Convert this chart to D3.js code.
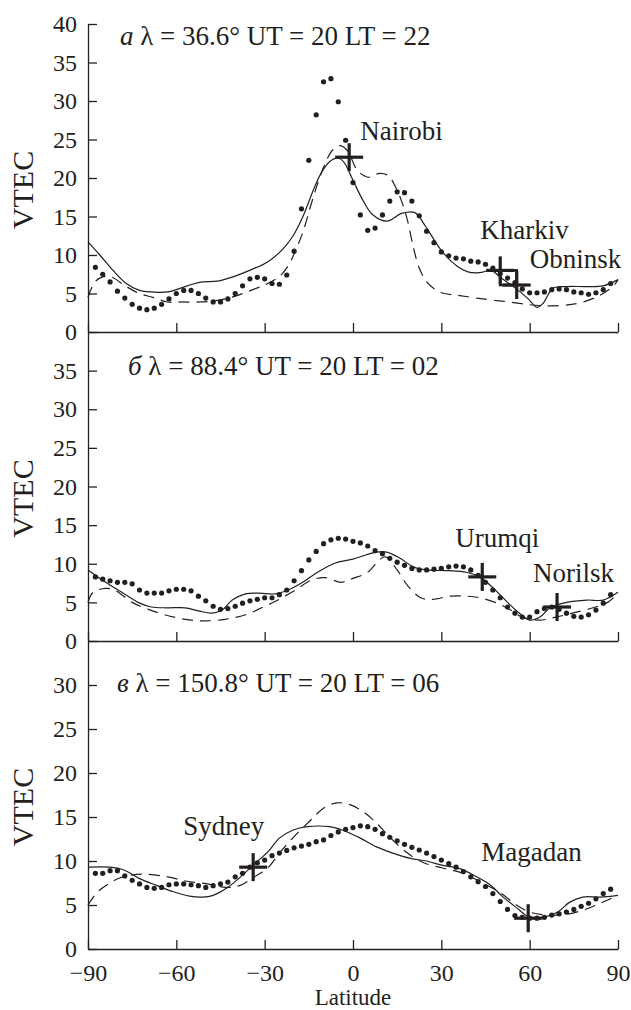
<!DOCTYPE html>
<html>
<head>
<meta charset="utf-8">
<script src="https://cdnjs.cloudflare.com/ajax/libs/d3/7.8.5/d3.min.js"></script>
<style>
  body { margin: 0; background: #fff; }
</style>
</head>
<body>
<script>
// latitude ticks shared by all three panels
var latTicks = [-90, -60, -30, 0, 30, 60, 90];

// panel a: lambda = 36.6
var aSolid = [[-90,11.7],[-86,10.0],[-81.5,8.0],[-77,6.3],[-72.5,5.4],[-68,5.2],[-63,5.2],[-58.5,5.7],[-54.5,6.2],[-51,6.5],[-46,6.6],[-40.5,7.2],[-34.5,8.1],[-29,9.1],[-24,10.7],[-20.5,12.4],[-17,15.0],[-13.5,18.4],[-11,20.5],[-8,22.1],[-5,22.6],[-3,22.0],[0,19.7],[3.5,17.0],[6.5,15.3],[11.5,14.4],[16.5,15.4],[21,15.5],[24.5,13.8],[27.5,12.0],[31,10.1],[35.5,8.5],[39,7.8],[43,7.7],[47,8.0],[50,7.1],[55.5,5.6],[59.5,4.3],[62.5,3.2],[64.5,3.7],[68,5.7],[72.5,5.9],[79.5,5.9],[85,6.0],[90,6.8]];
var aDashed = [[-90,4.5],[-88,6.3],[-86,7.0],[-82.5,7.2],[-77,5.9],[-72.5,5.0],[-68,4.5],[-63,3.9],[-58,3.9],[-52,3.9],[-46,4.1],[-40.5,4.6],[-34,5.5],[-29,6.3],[-25,7.2],[-22,8.6],[-19.5,10.6],[-17,13.0],[-13.5,17.5],[-10,21.4],[-7,23.6],[-4.5,24.2],[-2,23.6],[1.5,21.0],[5,20.1],[9,20.6],[12,20.3],[14.5,18.8],[16.5,17.0],[18.5,14.5],[20.5,11.0],[22.5,8.3],[25,6.5],[28,5.5],[31,5.0],[35,4.8],[42,4.4],[53,3.9],[64.5,3.4],[76,3.7],[83.5,4.7],[88.5,6.0],[90,6.8]];
var aDots = [[-87.5,8.4],[-85,7.5],[-82.5,6.5],[-80,5.3],[-77.5,4.4],[-75,3.6],[-72.5,3.1],[-70,2.9],[-67.5,3.1],[-65,3.6],[-62.5,4.3],[-60,5.0],[-57.5,5.4],[-55,5.4],[-52.5,5.0],[-50,4.4],[-47.5,3.9],[-45,3.9],[-42.5,4.3],[-40,5.0],[-37.5,6.0],[-35,6.9],[-32.5,7.1],[-30,6.9],[-27.5,6.3],[-25,6.2],[-22.5,7.4],[-20,10.5],[-17.5,16.0],[-15,22.3],[-12.5,28.2],[-10,32.5],[-7.5,32.9],[-5,29.9],[-2.5,24.9],[0,19.4],[2.5,15.2],[5,13.2],[7.5,13.5],[10,15.2],[12.5,17.0],[15,18.2],[17.5,18.1],[20,17.0],[22.5,15.1],[25,13.1],[27.5,11.6],[30,10.4],[32.5,9.9],[35,9.6],[37.5,9.5],[40,9.2],[42.5,9.1],[45,8.8],[47.5,8.3],[50,7.6],[52.5,7.0],[55,6.4],[57.5,5.6],[60,5.1],[62.5,5.1],[65,5.2],[67.5,5.5],[70,5.6],[72.5,5.5],[75,5.2],[77.5,5.1],[80,4.9],[82.5,5.1],[85,5.5],[87.5,6.3]];
var aStations = [{name: "Nairobi", lat: -1.3, v: 22.7}, {name: "Kharkiv", lat: 50, v: 8.0}, {name: "Obninsk", lat: 55.6, v: 6.1}];

// panel b: lambda = 88.4
var bSolid = [[-90,9.2],[-84,7.6],[-78.5,6.3],[-73,5.0],[-68.5,4.4],[-63,4.3],[-57,4.3],[-52.5,3.9],[-48,3.6],[-44.5,4.0],[-41,5.3],[-36.5,6.1],[-32,6.2],[-26.5,6.1],[-22,6.6],[-17.5,7.5],[-12,8.9],[-6,10.1],[0,10.6],[2.5,10.9],[8,11.5],[11.5,11.5],[16,10.7],[20.5,9.6],[25,9.2],[32,9.1],[38.5,8.9],[43,8.3],[47.5,6.9],[52.5,5.0],[56.5,3.6],[60,2.7],[63.5,3.1],[67,4.3],[72.5,5.0],[79.5,5.3],[85,5.3],[90,6.3]];
var bDashed = [[-90,5.0],[-88.3,6.3],[-84,6.8],[-81,6.6],[-75,5.0],[-69.5,4.1],[-64,3.4],[-57,2.8],[-50.5,2.6],[-43.5,2.8],[-36.5,3.4],[-31,4.3],[-25.5,5.3],[-19.5,6.6],[-14,7.9],[-9.5,8.2],[-4,7.6],[0,8.1],[5,8.9],[9,10.5],[11,10.9],[15,9.2],[18.5,7.2],[23,5.6],[27,5.4],[33,5.8],[38.5,5.8],[43,5.6],[49,4.9],[53.5,4.0],[58,3.0],[63.5,2.7],[69,3.1],[74.5,3.6],[81.5,4.3],[86.5,5.0],[90,6.2]];
var bDots = [[-87.5,8.3],[-85,8.0],[-82.5,7.8],[-80,7.6],[-77.5,7.6],[-75,7.4],[-72.5,6.6],[-70,6.2],[-67.5,6.2],[-65,6.2],[-62.5,6.5],[-60,6.7],[-57.5,6.7],[-55,6.5],[-52.5,5.8],[-50,5.2],[-47.5,4.5],[-45,4.1],[-42.5,4.2],[-40,4.5],[-37.5,4.9],[-35,5.2],[-32.5,5.4],[-30,5.6],[-27.5,5.6],[-25,6.0],[-22.5,6.6],[-20,7.8],[-17.5,9.1],[-15,10.5],[-12.5,11.6],[-10,12.6],[-7.5,13.1],[-5,13.3],[-2.5,13.2],[0,12.9],[2.5,12.7],[5,12.3],[7.5,11.7],[10,11.3],[12.5,10.7],[15,10.2],[17.5,9.8],[20,9.4],[22.5,9.2],[25,9.2],[27.5,9.3],[30,9.4],[32.5,9.6],[35,9.7],[37.5,9.6],[40,9.2],[42.5,8.5],[45,7.6],[47.5,6.6],[50,5.6],[52.5,4.4],[55,3.6],[57.5,3.1],[60,3.1],[62.5,3.8],[65,4.2],[67.5,4.4],[70,4.1],[72.5,3.6],[75,3.2],[77.5,3.1],[80,3.4],[82.5,4.0],[85,4.9],[87.5,6.0]];
var bStations = [{name: "Urumqi", lat: 43.9, v: 8.3}, {name: "Norilsk", lat: 69.3, v: 4.4}];

// panel c: lambda = 150.8
var cSolid = [[-90,9.3],[-82.5,9.3],[-78,9.0],[-72.5,8.0],[-66.5,7.2],[-61,6.5],[-55.5,6.0],[-51,5.9],[-47.5,6.1],[-43,6.9],[-38.5,8.1],[-34,9.5],[-29,11.0],[-25,12.6],[-20.5,13.5],[-15.5,13.9],[-8,13.9],[-3.5,13.5],[2.5,12.6],[8,11.6],[13.5,10.9],[19.5,10.3],[25,10.0],[30.5,9.5],[36.5,9.1],[42,8.2],[46.5,7.3],[51,5.9],[55.5,4.7],[60,3.6],[64.5,3.6],[69.5,4.2],[73.5,5.3],[78,5.9],[84,5.9],[90,6.1]];
var cDashed = [[-90,5.0],[-87,6.4],[-83.5,7.3],[-79,8.1],[-71.5,8.5],[-63,8.2],[-56.5,7.7],[-49.5,7.4],[-43,7.0],[-38.5,7.2],[-34,8.1],[-29,9.2],[-25,10.9],[-20.5,12.6],[-14.5,14.6],[-10,16.0],[-5.5,16.6],[-1,16.4],[3.5,15.6],[8,14.3],[12.5,12.7],[18.5,10.9],[24,9.8],[30.5,9.2],[37.5,8.6],[44,7.5],[50,6.4],[55.5,5.0],[60,4.2],[64.5,3.9],[71.5,3.9],[78,4.4],[84,5.2],[90,6.1]];
var cDots = [[-87.5,8.6],[-85,8.6],[-82.5,8.9],[-80,8.9],[-77.5,8.3],[-75,7.8],[-72.5,7.4],[-70,7.0],[-67.5,6.9],[-65,7.0],[-62.5,7.3],[-60,7.4],[-57.5,7.4],[-55,7.3],[-52.5,7.2],[-50,7.0],[-47.5,7.2],[-45,7.4],[-42.5,7.6],[-40,8.2],[-37.5,8.6],[-35,9.3],[-32.5,9.8],[-30,10.1],[-27.5,10.6],[-25,10.9],[-22.5,11.2],[-20,11.5],[-17.5,11.7],[-15,11.9],[-12.5,12.2],[-10,12.4],[-7.5,12.9],[-5,13.3],[-2.5,13.6],[0,13.8],[2.5,14.0],[5,13.9],[7.5,13.6],[10,13.1],[12.5,12.7],[15,12.3],[17.5,11.9],[20,11.55],[22.5,11.25],[25,10.9],[27.5,10.5],[30,10.1],[32.5,9.7],[35,9.3],[37.5,8.8],[40,8.2],[42.5,7.65],[45,7.1],[47.5,6.3],[50,5.4],[52.5,4.5],[55,3.8],[57.5,3.6],[60,3.5],[62.5,3.5],[65,3.6],[67.5,3.85],[70,4.0],[72.5,4.2],[75,4.5],[77.5,4.85],[80,5.2],[82.5,5.7],[85,6.3],[87.5,6.8]];
var cStations = [{name: "Sydney", lat: -33.9, v: 9.3}, {name: "Magadan", lat: 59.5, v: 3.5}];

// where each station name sits relative to its cross (px)
var labelOffset = {
  Nairobi: [11, -17], Kharkiv: [-20, -31], Obninsk: [13, -17],
  Urumqi: [-27, -30], Norilsk: [-24, -25],
  Sydney: [-70, -32], Magadan: [-47, -57]
};

var panels = [
  { letter: "а", rest: " λ = 36.6° UT = 20 LT = 22", top: 24, bottom: 332, yMax: 40, yTicks: d3.range(0, 41, 5),
    solid: aSolid, dashed: aDashed, dots: aDots, stations: aStations, titleX: 120, titleDy: 21 },
  { letter: "б", rest: " λ = 88.4° UT = 20 LT = 02", top: 332, bottom: 641, yMax: 40, yTicks: d3.range(0, 36, 5),
    solid: bSolid, dashed: bDashed, dots: bDots, stations: bStations, titleX: 128, titleDy: 43 },
  { letter: "в", rest: " λ = 150.8° UT = 20 LT = 06", top: 641, bottom: 949, yMax: 35, yTicks: d3.range(0, 31, 5),
    solid: cSolid, dashed: cDashed, dots: cDots, stations: cStations, titleX: 117, titleDy: 51 }
];

var svgWidth = 631, svgHeight = 1010;
var left = 88, right = 618;
var ink = "#231f20";
var serif = "'Liberation Serif', 'Times New Roman', serif";

var svg = d3.select("body").append("svg")
  .attr("width", svgWidth)
  .attr("height", svgHeight)
  .style("font-family", serif);

var x = d3.scaleLinear().domain([-90, 90]).range([left, right]);

panels.forEach(function (p, i) {
  var y = d3.scaleLinear().domain([0, p.yMax]).range([p.bottom, p.top]);
  var g = svg.append("g");

  // axes, ticks point inward
  var yAxis = g.append("g")
    .attr("transform", "translate(" + left + ",0)")
    .call(d3.axisLeft(y).tickValues(p.yTicks).tickSizeInner(-9).tickSizeOuter(0).tickPadding(11));

  var xAxis = g.append("g")
    .attr("transform", "translate(0," + p.bottom + ")")
    .call(d3.axisBottom(x).tickValues(latTicks).tickSizeInner(-9).tickSizeOuter(0).tickPadding(15));

  [yAxis, xAxis].forEach(function (ax) {
    ax.attr("font-family", null);
    ax.selectAll("path, line").attr("stroke", ink).attr("stroke-width", 1.3);
    ax.selectAll("text").style("font-size", "24px").attr("fill", ink);
  });
  if (i < 2) xAxis.selectAll("text").remove();

  var line = d3.line()
    .x(function (d) { return x(d[0]); })
    .y(function (d) { return y(d[1]); })
    .curve(d3.curveCatmullRom.alpha(0.5));

  g.append("path")
    .datum(p.solid)
    .attr("d", line)
    .attr("fill", "none")
    .attr("stroke", ink)
    .attr("stroke-width", 1.2);

  g.append("path")
    .datum(p.dashed)
    .attr("d", line)
    .attr("fill", "none")
    .attr("stroke", ink)
    .attr("stroke-width", 1.2)
    .attr("stroke-dasharray", "11,7");

  g.selectAll("circle")
    .data(p.dots)
    .enter()
    .append("circle")
    .attr("cx", function (d) { return x(d[0]); })
    .attr("cy", function (d) { return y(d[1]); })
    .attr("r", 2.6)
    .attr("fill", ink);

  // station crosses
  var st = g.selectAll(".station")
    .data(p.stations)
    .enter()
    .append("g")
    .attr("class", "station")
    .attr("transform", function (d) { return "translate(" + x(d.lat) + "," + y(d.v) + ")"; });

  st.append("line").attr("x1", -14).attr("x2", 14).attr("y1", 0).attr("y2", 0)
    .attr("stroke", ink).attr("stroke-width", 3.2);
  st.append("line").attr("x1", 0).attr("x2", 0).attr("y1", -14).attr("y2", 14)
    .attr("stroke", ink).attr("stroke-width", 3.2);

  st.append("text")
    .attr("x", function (d) { return labelOffset[d.name][0]; })
    .attr("y", function (d) { return labelOffset[d.name][1]; })
    .attr("fill", ink)
    .style("font-size", "27px")
    .text(function (d) { return d.name; });

  // the square between Kharkiv and Obninsk in panel a
  if (i === 0) {
    var k = p.stations[1], o = p.stations[2];
    g.append("rect")
      .attr("x", x(k.lat))
      .attr("y", y(k.v))
      .attr("width", x(o.lat) - x(k.lat))
      .attr("height", y(o.v) - y(k.v))
      .attr("fill", "none")
      .attr("stroke", ink)
      .attr("stroke-width", 2.6);
  }

  // panel title
  var t = g.append("text")
    .attr("x", p.titleX)
    .attr("y", p.top + p.titleDy)
    .attr("fill", ink)
    .style("font-size", "27px");
  t.append("tspan").style("font-style", "italic").text(p.letter);
  t.append("tspan").text(p.rest);

  // y label
  g.append("text")
    .attr("transform", "translate(33," + ((p.top + p.bottom) / 2 + 12) + ") rotate(-90)")
    .attr("text-anchor", "middle")
    .attr("fill", ink)
    .style("font-size", "30px")
    .text("VTEC");
});

svg.append("text")
  .attr("x", (left + right) / 2)
  .attr("y", 1004.5)
  .attr("text-anchor", "middle")
  .attr("fill", ink)
  .style("font-size", "23px")
  .text("Latitude");
</script>
</body>
</html>
